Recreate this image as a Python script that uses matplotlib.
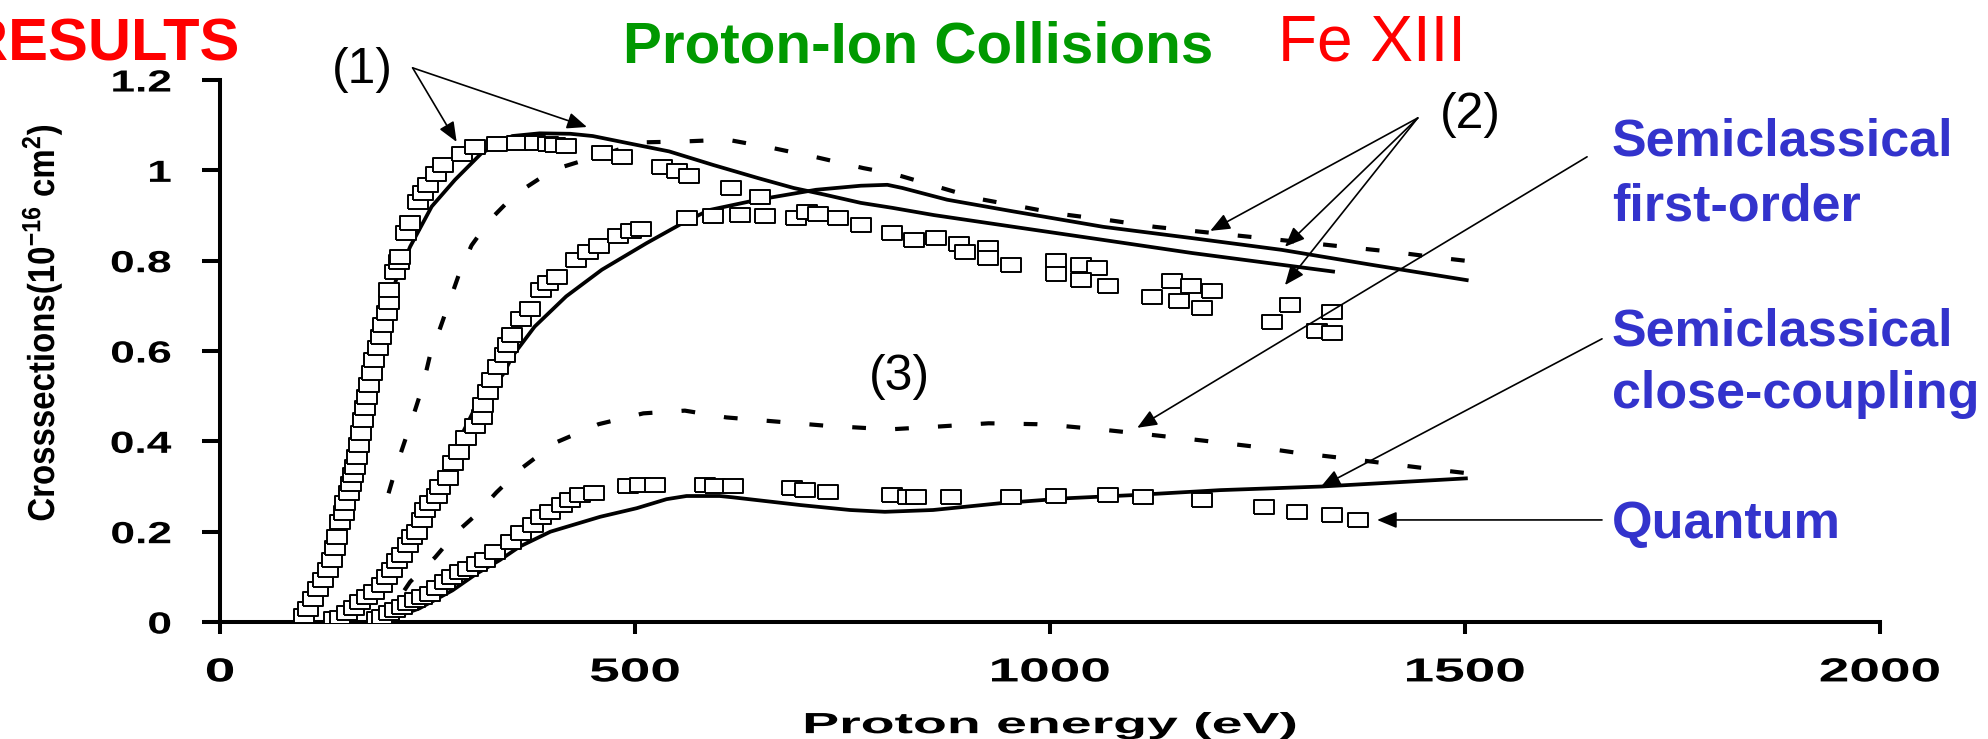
#!/usr/bin/env python3
"""Fe XIII proton-ion collision cross sections: quantum results (squares) against
semiclassical first-order (dashed) and close-coupling (solid) curves, slide style.

    python3 plot.py
"""
import matplotlib

matplotlib.use("Agg")
import matplotlib.pyplot as plt  # noqa: E402
from matplotlib.patheffects import AbstractPathEffect  # noqa: E402
from matplotlib.transforms import Affine2D  # noqa: E402

# proton energy [eV] / cross section [1e-16 cm^2]
quant1_e = [101, 106, 112, 118, 124, 130, 135, 138, 141, 145, 149, 151, 155, 158, 160,
            162, 165, 167, 170, 172, 175, 177, 180, 183, 186, 190, 194, 196, 201, 203,
            204, 211, 215, 217, 224, 229, 238, 245, 251, 260, 269, 291, 307, 334, 358,
            379, 395, 403, 417, 460, 484, 533, 551, 565, 616, 651,
            836, 862, 890, 925, 1007, 1037, 1056, 1147, 1170, 1195, 1289, 1340]
quant1_s = [.013, .028, .052, .072, .093, .115, .137, .163, .189, .222, .241, .263, .285,
            .305, .325, .344, .366, .392, .418, .447, .473, .499, .525, .551, .580, .606,
            .632, .658, .684, .709, .735, .776, .798, .809, .861, .883, .929, .950, .968,
            .992, 1.012, 1.037, 1.052, 1.058, 1.061, 1.060, 1.058, 1.056, 1.054, 1.039,
            1.029, 1.007, .998, .987, .961, .941,
            .846, .850, .837, .828, .800, .791, .784, .754, .743, .733, .702, .686]
quant2_e = [137, 145, 153, 161, 169, 177, 185, 195, 201, 207, 213, 219, 226, 231, 237,
            243, 247, 253, 261, 265, 275, 281, 288, 296, 307, 315, 317, 323, 328, 335,
            343, 347, 352, 363, 373, 387, 395, 406, 429, 443, 456, 480, 495, 507, 562,
            594, 627, 656, 694, 707, 721, 745, 772, 810, 897, 925, 953, 1007, 1037, 1070,
            1123, 1155, 1183, 1268, 1322, 1340]
quant2_s = [.006, .008, .019, .030, .045, .056, .067, .082, .100, .115, .134, .148, .171,
            .189, .200, .226, .248, .263, .278, .300, .318, .351, .377, .407, .433, .455,
            .481, .510, .536, .565, .591, .614, .636, .670, .694, .735, .750, .765, .802,
            .820, .833, .855, .865, .870, .894, .898, .901, .898, .894, .907, .903, .894,
            .878, .862, .820, .806, .791, .770, .757, .743, .719, .710, .695, .664, .645,
            .640]
quant3_e = [189, 195, 203, 211, 219, 227, 235, 243, 253, 261, 271, 279, 289, 299, 309,
            319, 331, 351, 363, 377, 387, 398, 412, 422, 434, 450, 492, 506, 524, 584,
            596, 618, 689, 705, 733, 809, 829, 839, 881, 953, 1007, 1070, 1112, 1183,
            1258, 1298, 1340, 1371]
quant3_s = [.006, .012, .019, .027, .034, .041, .049, .056, .063, .075, .089, .100, .111,
            .118, .128, .137, .156, .178, .196, .215, .233, .244, .259, .270, .281, .286,
            .301, .303, .303, .303, .301, .301, .296, .292, .287, .281, .277, .276, .277,
            .277, .279, .281, .277, .270, .254, .243, .237, .226]

# semiclassical close-coupling (solid)
cc1_e = [100, 115, 128, 136, 148, 160, 172, 185, 198, 212, 229, 255, 283, 315, 352, 385,
         422, 449, 492, 541, 594, 648, 691, 729, 772, 810, 860, 956, 1064, 1171, 1341]
cc1_s = [0, .04, .11, .18, .27, .37, .47, .57, .67, .757, .831, .920, .979, 1.038, 1.076,
         1.082, 1.081, 1.076, 1.060, 1.042, 1.012, .983, .961, .946, .928, .917, .901,
         .875, .846, .817, .776]
cc2_e = [140, 170, 200, 220, 235, 257, 269, 304, 342, 352, 379, 417, 460, 514, 557, 589,
         648, 718, 772, 804, 822, 876, 956, 1064, 1171, 1279, 1387, 1502]
cc2_s = [0, .03, .09, .16, .222, .292, .333, .462, .551, .588, .654, .721, .780, .839,
         .883, .912, .935, .957, .966, .968, .961, .935, .909, .875, .850, .824, .791, .757]
cc3_e = [195, 240, 280, 309, 337, 361, 398, 458, 502, 538, 562, 602, 618, 699, 759, 801,
         859, 940, 1020, 1100, 1205, 1327, 1501]
cc3_s = [0, .03, .07, .107, .137, .167, .200, .233, .252, .272, .279, .279, .276, .259,
         .248, .244, .248, .263, .274, .281, .292, .300, .318]

# semiclassical first-order (dashed)
fo1_e = [203, 213, 223, 233, 244, 253, 265, 277, 289, 303, 325, 355, 401, 508, 559, 611,
         667, 721, 775, 812, 862, 914, 970, 1010, 1070, 1126, 1182, 1240, 1298, 1354,
         1411, 1467, 1500]
fo1_s = [.285, .348, .403, .458, .521, .591, .650, .713, .776, .834, .890, .946, 1.001,
         1.062, 1.064, 1.068, 1.049, 1.028, 1.005, .992, .965, .937, .918, .904, .890,
         .875, .864, .853, .842, .831, .820, .807, .800]
fo2_e = [222, 229, 259, 285, 307, 333, 363, 404, 456, 510, 560, 610, 669, 727, 783, 811,
         867, 926, 984, 1010, 1068, 1124, 1183, 1243, 1296, 1353, 1410, 1467, 1500]
fo2_s = [.070, .089, .143, .199, .235, .287, .340, .397, .438, .462, .468, .453, .444,
         .435, .429, .427, .433, .440, .438, .435, .425, .414, .402, .389, .375, .363,
         .350, .337, .330]

xticks = [0, 500, 1000, 1500, 2000]
xtick_labels = ["0", "500", "1000", "1500", "2000"]
yticks = [0, 0.2, 0.4, 0.6, 0.8, 1.0, 1.2]
ytick_labels = ["0", "0.2", "0.4", "0.6", "0.8", "1", "1.2"]

RED, GREEN, BLUE = "#FF0000", "#009900", "#3333CC"
RECT = [(-1.4, -1), (1.4, -1), (1.4, 1), (-1.4, 1), (-1.4, -1)]

plt.rcParams.update({"font.family": "Liberation Sans",
                     "mathtext.fontset": "custom",
                     "mathtext.rm": "Liberation Sans",
                     "mathtext.bf": "Liberation Sans:bold",
                     "mathtext.default": "bf"})


class Stretch(AbstractPathEffect):
    """Widen (sx > 1) or squeeze (sx < 1) glyphs along the writing direction, keeping
    the point at fraction `anchor` of the ink width in place -- the slide's axis
    fonts were stretched."""

    def __init__(self, sx, anchor=0.5):
        super().__init__()
        self.sx, self.anchor = sx, anchor

    def draw_path(self, renderer, gc, tpath, affine, rgbFace=None):
        ext = tpath.get_extents()
        x0 = ext.x0 + self.anchor * ext.width
        t = Affine2D().translate(-x0, 0).scale(self.sx, 1).translate(x0, 0)
        renderer.draw_path(gc, tpath, t + affine, rgbFace)


def main(path):
    fig = plt.figure(figsize=(19.88, 7.39), dpi=100)
    ax = fig.add_axes([0.1107, 0.1583, 0.8350, 0.7334])

    for e, s in ((cc1_e, cc1_s), (cc2_e, cc2_s), (cc3_e, cc3_s)):
        ax.plot(e, s, color="k", lw=2.7, zorder=2)
    for e, s in ((fo1_e, fo1_s), (fo2_e, fo2_s)):
        ax.plot(e, s, color="k", lw=3.0, ls=(0, (3.3, 7)), dash_capstyle="butt", zorder=2)
    for e, s in ((quant1_e, quant1_s), (quant2_e, quant2_s), (quant3_e, quant3_s)):
        ax.plot(e, s, ls="none", marker=RECT, ms=14.5, mfc="white", mec="k", mew=1.4,
                zorder=3)

    ax.set_xlim(0, 2000)
    ax.set_ylim(0, 1.2)
    for side in ("top", "right"):
        ax.spines[side].set_visible(False)
    for side in ("left", "bottom"):
        ax.spines[side].set_linewidth(2.9)
    ax.set_xticks(xticks, labels=xtick_labels)
    ax.set_yticks(yticks, labels=ytick_labels)
    ax.tick_params(axis="x", length=8.5, width=2.9, pad=17)
    ax.tick_params(axis="y", length=13, width=2.9, pad=22)
    for t in ax.get_xticklabels():
        t.set(fontsize=24, fontweight="bold", path_effects=[Stretch(1.65)])
    for t in ax.get_yticklabels():
        t.set(fontsize=22, fontweight="bold", path_effects=[Stretch(1.45, anchor=1.0)])

    ax.set_xlabel("Proton energy (eV)", fontsize=21, fontweight="bold",
                  va="baseline", path_effects=[Stretch(1.9)])
    ax.xaxis.set_label_coords(0.5, -0.205)
    ax.set_ylabel(r"Crosssections(10$^{-16}$ cm$^{2}$)", fontsize=27,
                  fontweight="bold", rotation=90, rotation_mode="anchor",
                  ha="center", va="baseline", path_effects=[Stretch(0.88)])
    ax.yaxis.set_label_coords(-0.100, 0.552)

    # slide headings
    fig.text(0.1202, 0.9188, "RESULTS", color=RED, fontsize=43, fontweight="bold",
             ha="right", va="baseline")
    fig.text(0.4618, 0.9161, "Proton-Ion Collisions", color=GREEN, fontsize=42,
             fontweight="bold", ha="center", va="baseline")
    fig.text(0.6429, 0.9188, "Fe XIII", color=RED, fontsize=46, ha="left",
             va="baseline")

    # method labels on the right
    for y, s in ((1.034, "Semiclassical"), (0.890, "first-order"),
                 (0.613, "Semiclassical"), (0.474, "close-coupling"),
                 (0.186, "Quantum")):
        ax.text(1677, y, s, color=BLUE, fontsize=37.5, fontweight="bold",
                ha="left", va="baseline", clip_on=False)

    # transition labels and pointers
    for x, y, s in ((171, 1.223, "(1)"), (1507, 1.123, "(2)"), (819, 0.543, "(3)")):
        ax.text(x, y, s, fontsize=36, ha="center", va="center", clip_on=False)
    arrow = dict(arrowstyle="-|>,head_length=0.6,head_width=0.25", lw=1.2, color="k",
                 mutation_scale=20, shrinkA=0, shrinkB=0)
    pointers = (((232, 1.227), (285, 1.063)), ((232, 1.227), (442, 1.096)),
                ((1443, 1.116), (1193, 0.866)), ((1443, 1.116), (1283, 0.831)),
                ((1443, 1.116), (1283, 0.746)),
                ((1647, 1.030), (1105, 0.430)),
                ((1665, 0.627), (1326, 0.299)),
                ((1665, 0.226), (1394, 0.226)))
    for src, tip in pointers:
        ax.annotate("", xy=tip, xytext=src, arrowprops=arrow, annotation_clip=False)

    fig.savefig(path, dpi=100)
    plt.close(fig)


if __name__ == "__main__":
    main("out.png")
